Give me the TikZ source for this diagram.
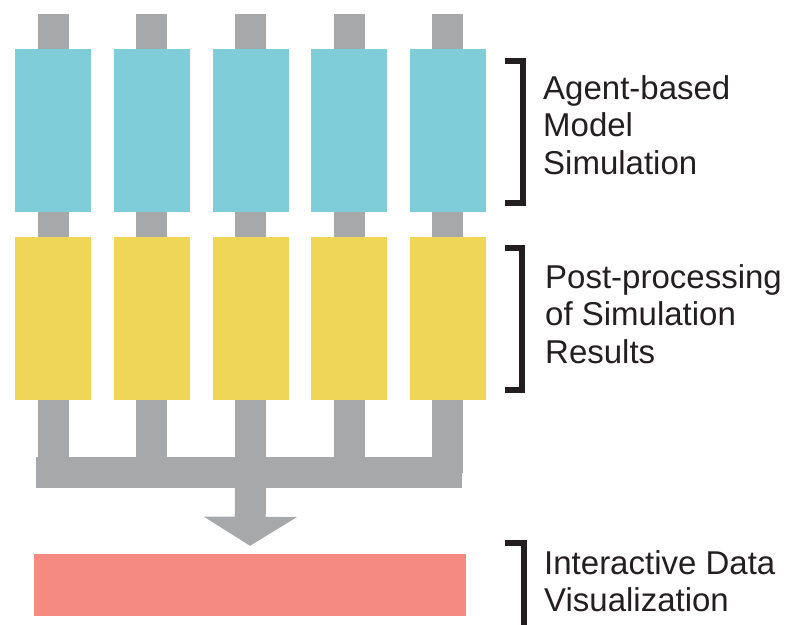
\documentclass[tikz,border=0pt]{standalone}
\usepackage{fontspec}
\setmainfont{Liberation Sans}
\usetikzlibrary{arrows.meta}
\definecolor{barg}{HTML}{A7A8AA}
\definecolor{simb}{HTML}{7ECDD8}
\definecolor{posty}{HTML}{F0D656}
\definecolor{visr}{HTML}{F48A80}
\definecolor{ink}{HTML}{231F20}
\tikzset{
  simbox/.style={fill=simb, draw=none, minimum width=76pt, minimum height=163pt, inner sep=0pt},
  postbox/.style={fill=posty, draw=none, minimum width=76pt, minimum height=163pt, inner sep=0pt},
  visbox/.style={fill=visr, draw=none, minimum width=432pt, minimum height=62pt, inner sep=0pt},
  bar/.style={draw=barg, line width=31pt, line cap=butt},
  brk/.style={draw=ink, line width=5.5pt, line cap=butt, line join=miter},
  lbl/.style={anchor=north west, inner sep=0pt, align=left, text=ink,
     font=\fontsize{33}{37.5}\selectfont}
}
\begin{document}
\begin{tikzpicture}[x=1pt, y=-1pt]
\useasboundingbox (0,0) rectangle (786,624);
% column boxes
\foreach \i/\cx in {1/53, 2/151.5, 3/250.5, 4/349, 5/447.5} {
  \node[simbox] (b\i) at (\cx,130.5) {};
  \node[postbox] (p\i) at (\cx,318.5) {};
}
\node[visbox] (r) at (250,585) {};
% stems
\foreach \i in {1,...,5} {
  \draw[bar] (b\i.north) -- ++(0,-35);
  \draw[bar] (b\i.south) -- (p\i.north);
}
% collector
\coordinate (hl) at (36,472.5);
\coordinate (hr) at (462,472.5);
\foreach \i in {1,...,5} {
  \draw[bar] (p\i.south) -- (p\i.south |- hl);
}
\draw[bar] (hl) -- (hr);
\draw[bar, -{Triangle[width=92pt 0 0, length=29pt 0 0]}, shorten >=8pt]
  (p3.south |- hl) -- (r.north);
% brackets
\draw[brk] (505,61) -- (523,61) -- (523,203) -- (505,203);
\draw[brk] (505,248) -- (522,248) -- (522,390) -- (505,390);
\draw[brk] (505,543) -- (524,543) -- (524,640);
% labels
\node[lbl] (t1) at (543,75) {Agent-based\\Model\\Simulation};
\node[lbl] (t2) at (545,264) {Post-processing\\of Simulation\\Results};
\node[lbl] (t3) at (544,550) {Interactive Data\\Visualization};
\end{tikzpicture}
\end{document}
